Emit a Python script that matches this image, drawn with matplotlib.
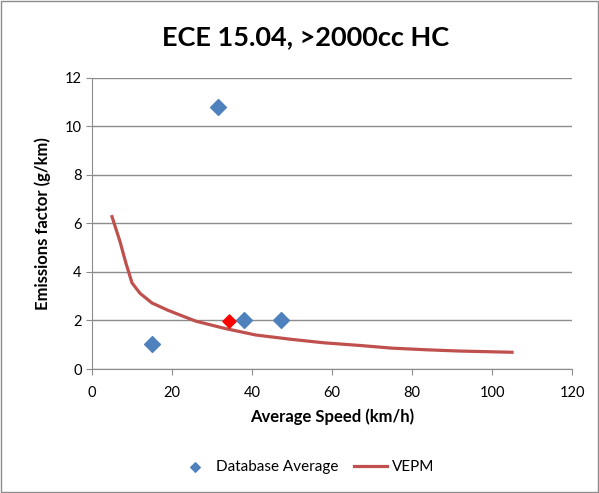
import matplotlib
matplotlib.use("Agg")
import matplotlib.pyplot as plt
from matplotlib.patches import Rectangle

plt.rcParams['font.family'] = ['Lato', 'DejaVu Sans']

# database average points
db_speed = [15.0, 31.5, 38.0, 47.25]
db_ef = [1.05, 10.8, 2.0, 2.0]
# highlighted point
red_speed = [34.25]
red_ef = [1.97]
# VEPM curve
vepm_speed = [5, 7, 8.5, 10, 12, 15, 19, 23, 26, 33, 41, 50, 58, 67, 75, 84, 92, 105]
vepm_ef = [6.28, 5.25, 4.35, 3.55, 3.12, 2.72, 2.42, 2.16, 1.97, 1.68, 1.40, 1.22,
           1.08, 0.97, 0.86, 0.79, 0.74, 0.69]

fig = plt.figure(figsize=(5.99, 4.93), dpi=100)
ax = fig.add_axes([0.1536, 0.2515, 0.8014, 0.5905])

ax.plot(vepm_speed, vepm_ef, color="#c0504d", linewidth=2.3, label="VEPM", zorder=3,
        solid_joinstyle='round')
ax.scatter(db_speed, db_ef, marker="D", s=65, color="#4f81bd", label="Database Average", zorder=4)
ax.scatter(red_speed, red_ef, marker="D", s=45, color="red", zorder=5)

ax.set_xlim(0, 120)
ax.set_ylim(0, 12)
ax.set_xticks(range(0, 121, 20))
ax.set_yticks(range(0, 13, 2))
ax.grid(axis='y', color="#8c8c8c", linewidth=1)
ax.set_axisbelow(True)
for s in ['top', 'right']:
    ax.spines[s].set_visible(False)
for s in ['left', 'bottom']:
    ax.spines[s].set_color("#8c8c8c")
ax.tick_params(colors="#8c8c8c", labelcolor="black", labelsize=10.5, length=4, direction='out')
ax.tick_params(axis='x', pad=8)

ax.set_xlabel("Average Speed (km/h)", fontsize=12, fontweight='bold', labelpad=6)
ax.set_ylabel("Emissions factor (g/km)", fontsize=12, fontweight='bold', labelpad=10)
fig.text(0.51, 0.925, "ECE 15.04, >2000cc HC", ha='center', va='center', fontsize=19.5, fontweight='bold')

h, l = ax.get_legend_handles_labels()
fig.legend(h[::-1], l[::-1], loc='center', bbox_to_anchor=(0.511, 0.053), ncol=2, frameon=False,
           fontsize=11, handlelength=2.2, handletextpad=0.3, columnspacing=1.0, markerscale=0.6)

fig.patches.append(Rectangle((0.002, 0.002), 0.996, 0.996, transform=fig.transFigure,
                             fill=False, edgecolor="#8c8c8c", linewidth=1))

fig.savefig("out.png", dpi=100)
